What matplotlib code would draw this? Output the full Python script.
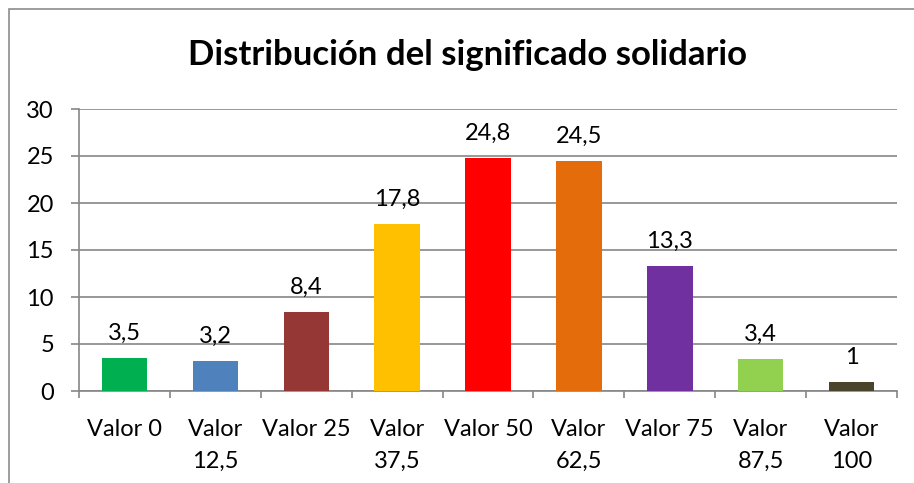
import numpy as np
import matplotlib
matplotlib.use("Agg")
import matplotlib.pyplot as plt
from matplotlib.patches import Rectangle

# chart data
categories = ["Valor 0", "Valor\n12,5", "Valor 25", "Valor\n37,5", "Valor 50",
              "Valor\n62,5", "Valor 75", "Valor\n87,5", "Valor\n100"]
values = [3.5, 3.2, 8.4, 17.8, 24.8, 24.5, 13.3, 3.4, 1]
value_labels = ["3,5", "3,2", "8,4", "17,8", "24,8", "24,5", "13,3", "3,4", "1"]
colors = ["#00B050", "#4F81BD", "#953735", "#FFC000", "#FF0000",
          "#E46C0A", "#7030A0", "#92D050", "#4A452A"]

plt.rcParams['font.family'] = ['Lato', 'DejaVu Sans']
grid_col = "#868686"
fs = 17

fig = plt.figure(figsize=(9.14, 4.83), dpi=100)
# outer chart border (Excel style)
fig.add_artist(Rectangle((9/914, -0.1), 1.2, 1 - 9/483 + 0.1, transform=fig.transFigure,
                         fill=False, edgecolor="#8c8c8c", lw=1.2))

ax = fig.add_axes([79/914, 1 - 391/483, (897 - 79)/914, (391 - 109)/483])
x = np.arange(len(values))
ax.bar(x, values, width=0.5, color=colors, zorder=3)
for xi, v, lab in zip(x, values, value_labels):
    ax.annotate(lab, (xi, v), xytext=(0, 13), textcoords='offset points',
                ha='center', va='baseline', fontsize=fs, color='black')

ax.set_xlim(-0.5, len(values) - 0.5)
ax.set_ylim(0, 30)
ax.set_yticks(np.arange(0, 31, 5))
ax.yaxis.grid(True, color=grid_col, lw=1.2, zorder=0)
ax.tick_params(axis='y', length=6, width=1.2, color=grid_col, labelsize=fs, pad=12)

ax.set_xticks(x)
ax.set_xticklabels(categories, fontsize=fs, linespacing=1.65, va='top')
ax.set_xticks(np.arange(-0.5, len(values)), minor=True)
ax.tick_params(axis='x', which='major', length=0, pad=20)
ax.tick_params(axis='x', which='minor', length=5, width=1.2, color=grid_col)

for s in ['top', 'right']:
    ax.spines[s].set_visible(False)
for s in ['left', 'bottom']:
    ax.spines[s].set_color(grid_col)
    ax.spines[s].set_linewidth(1.2)

fig.text(0.512, 1 - 55/483, "Distribución del significado solidario", ha='center', va='center',
         fontsize=25, fontweight='bold')

fig.savefig("out.png", dpi=100)
